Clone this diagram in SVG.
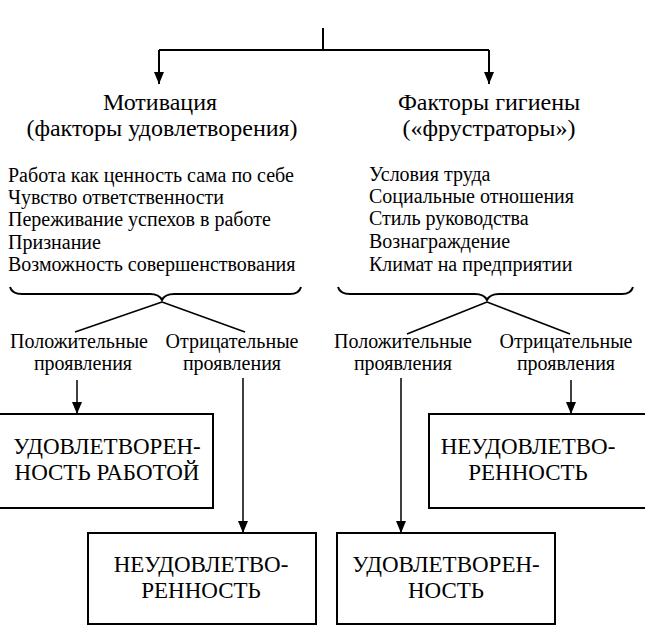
<svg xmlns="http://www.w3.org/2000/svg" width="645" height="636" viewBox="0 0 645 636" xml:lang="ru">
<defs>
<marker id="ah" viewBox="0 0 12 10" refX="12" refY="5" markerWidth="12" markerHeight="10" markerUnits="userSpaceOnUse" orient="auto">
<path d="M0,0 L12,5 L0,10 Z" fill="#000"/>
</marker>
</defs>
<rect width="645" height="636" fill="#fff"/>
<g id="connectors" stroke="#000" fill="none">
<path stroke-width="2" d="M323,28 V50 M159,50 H489"/>
<path stroke-width="2" d="M159,50 V84" marker-end="url(#ah)"/>
<path stroke-width="2" d="M489,50 V84" marker-end="url(#ah)"/>
<path stroke-width="2" d="M10,287 Q12,294 22,294 H150 Q159,294 162,300 Q165,294 174,294 H290 Q299,294 301,287"/>
<path stroke-width="2" d="M338,287 Q340,294 350,294 H475 Q484,294 487,300 Q490,294 499,294 H622 Q631,294 633,287"/>
<path stroke-width="1.5" d="M162,302 L75,332 M162,302 L245,332"/>
<path stroke-width="1.5" d="M487,302 L407,334 M487,302 L570,334"/>
<path stroke-width="1.5" d="M77,380 V414" marker-end="url(#ah)"/>
<path stroke-width="1.5" d="M243,378 V533" marker-end="url(#ah)"/>
<path stroke-width="1.5" d="M401,378 V533" marker-end="url(#ah)"/>
<path stroke-width="1.5" d="M571,380 V414" marker-end="url(#ah)"/>
</g>
<g id="motivation">
<text font-family="Times New Roman" font-size="24" text-anchor="middle" x="160" y="110">Мотивация</text>
<text font-family="Times New Roman" font-size="24" text-anchor="middle" x="162" y="136">(факторы удовлетворения)</text>
</g>
<g id="hygiene">
<text font-family="Times New Roman" font-size="24" text-anchor="middle" x="489" y="110">Факторы гигиены</text>
<text font-family="Times New Roman" font-size="24" text-anchor="middle" x="489" y="136">(«фрустраторы»)</text>
</g>
<g id="motivation-list">
<text font-family="Times New Roman" font-size="20" x="8" y="182">Работа как ценность сама по себе</text>
<text font-family="Times New Roman" font-size="20" x="8" y="204">Чувство ответственности</text>
<text font-family="Times New Roman" font-size="20" x="8" y="226">Переживание успехов в работе</text>
<text font-family="Times New Roman" font-size="20" x="8" y="249">Признание</text>
<text font-family="Times New Roman" font-size="20" x="8" y="271">Возможность совершенствования</text>
</g>
<g id="hygiene-list">
<text font-family="Times New Roman" font-size="20" x="369" y="181">Условия труда</text>
<text font-family="Times New Roman" font-size="20" x="369" y="203">Социальные отношения</text>
<text font-family="Times New Roman" font-size="20" x="369" y="225">Стиль руководства</text>
<text font-family="Times New Roman" font-size="20" x="369" y="248">Вознаграждение</text>
<text font-family="Times New Roman" font-size="20" x="369" y="271">Климат на предприятии</text>
</g>
<g id="m-positive">
<text font-family="Times New Roman" font-size="20" text-anchor="middle" x="79" y="348">Положительные</text>
<text font-family="Times New Roman" font-size="20" text-anchor="middle" x="83" y="370">проявления</text>
</g>
<g id="m-negative">
<text font-family="Times New Roman" font-size="20" text-anchor="middle" x="232" y="348">Отрицательные</text>
<text font-family="Times New Roman" font-size="20" text-anchor="middle" x="232" y="370">проявления</text>
</g>
<g id="h-positive">
<text font-family="Times New Roman" font-size="20" text-anchor="middle" x="403" y="348">Положительные</text>
<text font-family="Times New Roman" font-size="20" text-anchor="middle" x="403" y="370">проявления</text>
</g>
<g id="h-negative">
<text font-family="Times New Roman" font-size="20" text-anchor="middle" x="566" y="348">Отрицательные</text>
<text font-family="Times New Roman" font-size="20" text-anchor="middle" x="566" y="370">проявления</text>
</g>
<g id="box-satisfaction-work">
<rect x="-3" y="414" width="216" height="94" fill="#fff" stroke="#000" stroke-width="2"/>
<text font-family="Times New Roman" font-size="23" text-anchor="middle" x="107" y="454">УДОВЛЕТВОРЕН-</text>
<text font-family="Times New Roman" font-size="23" text-anchor="middle" x="107" y="480">НОСТЬ РАБОТОЙ</text>
</g>
<g id="box-dissatisfaction-1">
<rect x="88" y="533" width="228" height="91" fill="#fff" stroke="#000" stroke-width="2"/>
<text font-family="Times New Roman" font-size="23" text-anchor="middle" x="201" y="572">НЕУДОВЛЕТВО-</text>
<text font-family="Times New Roman" font-size="23" text-anchor="middle" x="201" y="598">РЕННОСТЬ</text>
</g>
<g id="box-dissatisfaction-2">
<rect x="429" y="414" width="220" height="94" fill="#fff" stroke="#000" stroke-width="2"/>
<text font-family="Times New Roman" font-size="23" text-anchor="middle" x="528" y="454">НЕУДОВЛЕТВО-</text>
<text font-family="Times New Roman" font-size="23" text-anchor="middle" x="528" y="480">РЕННОСТЬ</text>
</g>
<g id="box-satisfaction">
<rect x="337" y="533" width="218" height="91" fill="#fff" stroke="#000" stroke-width="2"/>
<text font-family="Times New Roman" font-size="23" text-anchor="middle" x="446" y="572">УДОВЛЕТВОРЕН-</text>
<text font-family="Times New Roman" font-size="23" text-anchor="middle" x="446" y="598">НОСТЬ</text>
</g>
</svg>
